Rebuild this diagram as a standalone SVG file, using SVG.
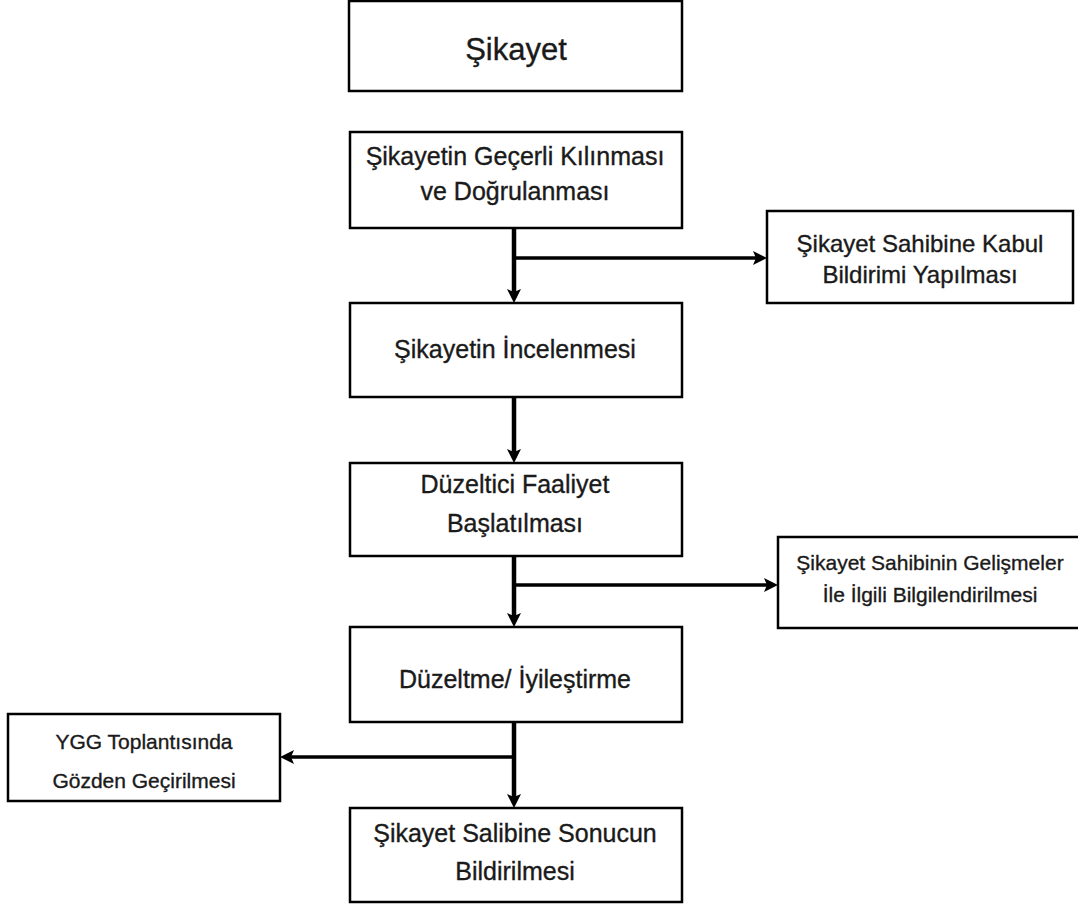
<svg xmlns="http://www.w3.org/2000/svg" width="1078" height="906" viewBox="0 0 1078 906">
  <style>
    .box { fill: #ffffff; stroke: #000000; stroke-width: 2.5; }
    .t { font-family: "Liberation Sans", Arial, sans-serif; fill: #1a1a1a; stroke: #1a1a1a; stroke-width: 0.35; text-anchor: middle; }
    .main { font-size: 25px; }
    .side1 { font-size: 24px; }
    .side2 { font-size: 21px; }
    .title { font-size: 31px; }
    .conn { stroke: #000000; stroke-width: 4.5; fill: none; }
    .branch { stroke: #000000; stroke-width: 3.5; fill: none; }
  </style>
  <defs>
    <marker id="arrow" viewBox="0 0 14 14" refX="9" refY="7" markerWidth="14" markerHeight="14" markerUnits="userSpaceOnUse" orient="auto">
      <path d="M0,0 L14,7 L0,14 L3,7 Z" fill="#000000"/>
    </marker>
  </defs>

  <g id="connectors">
    <line class="conn" x1="514" y1="229" x2="514" y2="298" marker-end="url(#arrow)"/>
    <line class="branch" x1="514" y1="258" x2="762" y2="258" marker-end="url(#arrow)"/>
    <line class="conn" x1="514" y1="398" x2="514" y2="458" marker-end="url(#arrow)"/>
    <line class="conn" x1="514" y1="557" x2="514" y2="622" marker-end="url(#arrow)"/>
    <line class="branch" x1="514" y1="585" x2="773" y2="585" marker-end="url(#arrow)"/>
    <line class="conn" x1="514" y1="723" x2="514" y2="803" marker-end="url(#arrow)"/>
    <line class="branch" x1="514" y1="757" x2="285" y2="757" marker-end="url(#arrow)"/>
  </g>

  <g id="n-sikayet">
    <rect class="box" x="349" y="1" width="333" height="90"/>
    <text class="t title" x="516" y="60">Şikayet</text>
  </g>

  <g id="n-gecerli">
    <rect class="box" x="350" y="132" width="332" height="96"/>
    <text class="t main" x="515" y="165">Şikayetin Geçerli Kılınması</text>
    <text class="t main" x="515" y="200">ve Doğrulanması</text>
  </g>

  <g id="n-kabul">
    <rect class="box" x="767" y="211" width="306" height="92"/>
    <text class="t side1" x="920" y="252">Şikayet Sahibine Kabul</text>
    <text class="t side1" x="920" y="283">Bildirimi Yapılması</text>
  </g>

  <g id="n-inceleme">
    <rect class="box" x="350" y="303" width="332" height="94"/>
    <text class="t main" x="515" y="358">Şikayetin İncelenmesi</text>
  </g>

  <g id="n-duzeltici">
    <rect class="box" x="350" y="463" width="332" height="93"/>
    <text class="t main" x="515" y="493">Düzeltici Faaliyet</text>
    <text class="t main" x="515" y="532">Başlatılması</text>
  </g>

  <g id="n-gelisme">
    <rect class="box" x="778" y="537" width="320" height="91"/>
    <text class="t side2" x="930" y="570">Şikayet Sahibinin Gelişmeler</text>
    <text class="t side2" x="930" y="602">İle İlgili Bilgilendirilmesi</text>
  </g>

  <g id="n-duzeltme">
    <rect class="box" x="350" y="627" width="332" height="95"/>
    <text class="t main" x="515" y="688">Düzeltme/ İyileştirme</text>
  </g>

  <g id="n-ygg">
    <rect class="box" x="8" y="714" width="272" height="87"/>
    <text class="t side2" x="144" y="749">YGG Toplantısında</text>
    <text class="t side2" x="144" y="788">Gözden Geçirilmesi</text>
  </g>

  <g id="n-sonuc">
    <rect class="box" x="350" y="808" width="332" height="94"/>
    <text class="t main" x="515" y="842">Şikayet Salibine Sonucun</text>
    <text class="t main" x="515" y="880">Bildirilmesi</text>
  </g>
</svg>
